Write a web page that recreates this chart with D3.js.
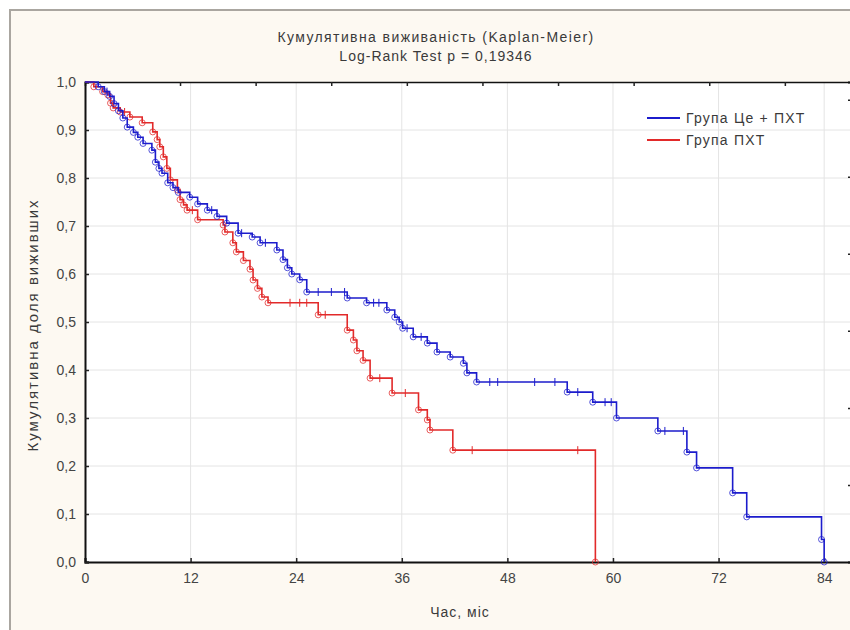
<!DOCTYPE html>
<meta charset="utf-8">
<head>
    <script src="https://cdn.jsdelivr.net/npm/d3@7"></script>
    <style>
        body { margin: 0; background: #ffffff; }
        text { font-family: 'Liberation Sans', Arial, sans-serif; fill: #3a3a3a; }
    </style>
</head>
<body>
    <div id="chart"></div>
    <script>

    // Група Це + ПХТ : time of each step (months) and survival after it
    var blueTimes = [1.5, 2.2, 2.8, 3.3, 3.8, 4.3, 4.8, 5.5, 6, 6.6, 7.6, 8, 8.4, 8.75, 9.4, 10, 10.6, 11.9, 12.8, 13.9, 15, 16.1, 17.4, 19, 19.9, 21.8, 22.5, 23, 23.5, 24.4, 25.2, 29.8, 32, 34.3, 35.2, 35.7, 36.1, 37.3, 38.9, 40, 41.5, 43, 43.4, 44.5, 54.8, 57.7, 60.4, 65.1, 68.4, 69.5, 73.6, 75.2, 83.7, 84]
    var blueSurv  = [0.99, 0.98, 0.97, 0.955, 0.94, 0.925, 0.906, 0.895, 0.885, 0.872, 0.858, 0.833, 0.82, 0.81, 0.79, 0.78, 0.77, 0.76, 0.746, 0.733, 0.72, 0.706, 0.685, 0.677, 0.665, 0.65, 0.63, 0.613, 0.6, 0.588, 0.5625, 0.55, 0.54, 0.525, 0.51, 0.5, 0.487, 0.469, 0.456, 0.4375, 0.427, 0.414, 0.394, 0.375, 0.354, 0.333, 0.30, 0.273, 0.229, 0.196, 0.144, 0.094, 0.047, 0]
    var blueCensor = [2.5, 14.4, 17.8, 20.5, 26.5, 28, 29.5, 32.8, 33.4, 36.6, 38.2, 46, 46.9, 51.1, 53.4, 56, 59.1, 59.8, 65.9, 68]

    // Група ПХТ
    var redTimes = [1, 2, 2.6, 2.9, 3.2, 4, 5.1, 6.5, 7.7, 8.2, 8.5, 8.9, 9.3, 9.7, 10.5, 10.8, 11.2, 11.6, 12.8, 15.7, 15.9, 16.8, 17.2, 18, 18.75, 19.1, 19.6, 20.1, 20.8, 26.5, 29.8, 30.5, 30.9, 31.6, 32.4, 34.9, 37.9, 38.9, 39.2, 41.8, 58]
    var redSurv  = [0.99, 0.98, 0.973, 0.956, 0.946, 0.9375, 0.927, 0.915, 0.896, 0.88, 0.865, 0.844, 0.82, 0.796, 0.775, 0.755, 0.744, 0.733, 0.713, 0.702, 0.6875, 0.665, 0.646, 0.628, 0.61, 0.5875, 0.57, 0.552, 0.54, 0.515, 0.483, 0.4625, 0.44, 0.42, 0.383, 0.352, 0.317, 0.296, 0.275, 0.233, 0]
    var redCensor = [4.5, 12.2, 23.3, 24.4, 25.2, 27.3, 33.5, 36.4, 44, 56]

    var xTicks = [0, 12, 24, 36, 48, 60, 72, 84]
    var yTicks = [0, 0.1, 0.2, 0.3, 0.4, 0.5, 0.6, 0.7, 0.8, 0.9, 1.0]
    var groups = ["Група Це + ПХТ", "Група ПХТ"]
    var colors = ["#1c1ccc", "#e22a2a"]

    var width = 850, height = 630
    var pL = 85, pR = 851, pT = 82, pB = 562

    var svg = d3.select("#chart").append("svg")
        .attr("width", width)
        .attr("height", height)

    // frame
    svg.append("rect").attr("x", 10).attr("y", 10).attr("width", 860).attr("height", 640)
        .attr("fill", "#fdf9f2").attr("stroke", "#aaa6a0").attr("stroke-width", 2)

    var x = d3.scaleLinear().domain([0, 87.05]).range([pL, pR])
    var y = d3.scaleLinear().domain([0, 1]).range([pB, pT])
    // secondary axes drawn by STATISTICA on top and right
    var xTop = d3.scaleLinear().domain([-1.257, 8.875]).range([pL, pR])
    var yRight = d3.scaleLinear().domain([0, 6.23]).range([pB, pT])

    svg.append("rect").attr("x", pL).attr("y", pT).attr("width", pR - pL).attr("height", pB - pT)
        .attr("fill", "#ffffff")

    // grid
    svg.append("g").selectAll("line").data(xTicks.slice(1)).enter().append("line")
        .attr("x1", d => x(d)).attr("x2", d => x(d)).attr("y1", pT).attr("y2", pB)
        .attr("stroke", "#e4e4e4").attr("stroke-width", 1)
    svg.append("g").selectAll("line").data(yTicks.slice(1, -1)).enter().append("line")
        .attr("x1", pL).attr("x2", pR).attr("y1", d => y(d)).attr("y2", d => y(d))
        .attr("stroke", "#e4e4e4").attr("stroke-width", 1)

    // axes
    var gx = svg.append("g").attr("transform", "translate(0," + pB + ")")
        .call(d3.axisBottom(x).tickValues(xTicks).tickSize(-4).tickPadding(11).tickFormat(d3.format("d")))
    var gy = svg.append("g").attr("transform", "translate(" + pL + ",0)")
        .call(d3.axisLeft(y).tickValues(yTicks).tickSize(-4).tickPadding(9).tickFormat(d => d.toFixed(1).replace(".", ",")))
    var gt = svg.append("g").attr("transform", "translate(0," + pT + ")")
        .call(d3.axisTop(xTop).tickValues(d3.range(0, 9)).tickSize(-4).tickFormat(""))
    var gr = svg.append("g").attr("transform", "translate(" + pR + ",0)")
        .call(d3.axisRight(yRight).tickValues(d3.range(1, 7)).tickSize(-3).tickFormat(""))

    ;[gx, gy, gt, gr].forEach(function(g) {
        g.select(".domain").attr("stroke", "#111").attr("stroke-width", 2)
        g.selectAll(".tick line").attr("stroke", "#222").attr("stroke-width", 1.5)
        g.selectAll(".tick text").style("font-size", "14px").style("fill", "#444")
            .style("font-family", "'Liberation Sans', Arial, sans-serif")
    })
    gt.select(".domain").attr("stroke-width", 1.5)

    // curves
    var line = d3.line()
        .x(d => x(d[0])).y(d => y(d[1]))
        .curve(d3.curveStepAfter)

    function stepAt(times, surv, t) {
        var s = 1
        for (var i = 0; i < times.length; i++) { if (times[i] <= t) s = surv[i] }
        return s
    }

    var series = [
        {times: blueTimes, surv: blueSurv, censor: blueCensor, color: colors[0]},
        {times: redTimes, surv: redSurv, censor: redCensor, color: colors[1]}
    ]

    series.slice().reverse().forEach(function(s) {
        var pts = [[0, 1]].concat(s.times.map((t, i) => [t, s.surv[i]]))
        var g = svg.append("g")
        g.append("path").datum(pts)
            .attr("d", line)
            .attr("fill", "none")
            .attr("stroke", s.color)
            .attr("stroke-width", 1.6)
        // complete observations
        g.selectAll("circle").data(pts.slice(1)).enter().append("circle")
            .attr("cx", d => x(d[0])).attr("cy", d => y(d[1])).attr("r", 3)
            .attr("fill", "none").attr("stroke", s.color).attr("stroke-opacity", 0.75).attr("stroke-width", 1)
        // censored observations
        g.selectAll("line.cens").data(s.censor).enter().append("line").attr("class", "cens")
            .attr("x1", d => x(d)).attr("x2", d => x(d))
            .attr("y1", d => y(stepAt(s.times, s.surv, d)) - 4)
            .attr("y2", d => y(stepAt(s.times, s.surv, d)) + 4)
            .attr("stroke", s.color).attr("stroke-width", 1)
    })

    // titles
    svg.append("text").attr("x", 436).attr("y", 42).attr("text-anchor", "middle")
        .style("font-size", "14px").style("letter-spacing", "1.4px").text("Кумулятивна виживаність (Kaplan-Meier)")
    svg.append("text").attr("x", 436).attr("y", 61).attr("text-anchor", "middle")
        .style("font-size", "14px").style("letter-spacing", "1px").text("Log-Rank Test p = 0,19346")
    svg.append("text").attr("x", 460).attr("y", 617).attr("text-anchor", "middle")
        .style("font-size", "14px").style("letter-spacing", "1px").text("Час, міс")
    svg.append("text").attr("transform", "translate(38,325) rotate(-90)").attr("text-anchor", "middle")
        .style("font-size", "15px").style("letter-spacing", "2px").text("Кумулятивна доля виживших")

    // legend
    var legend = svg.append("g").attr("transform", "translate(647,118)")
    groups.forEach(function(name, i) {
        legend.append("line").attr("x1", 0).attr("x2", 33).attr("y1", i * 22).attr("y2", i * 22)
            .attr("stroke", colors[i]).attr("stroke-width", 2)
        legend.append("text").attr("x", 39).attr("y", i * 22 + 5)
            .style("font-size", "14px").style("letter-spacing", "1.2px").text(name)
    })
    </script>
</body>
